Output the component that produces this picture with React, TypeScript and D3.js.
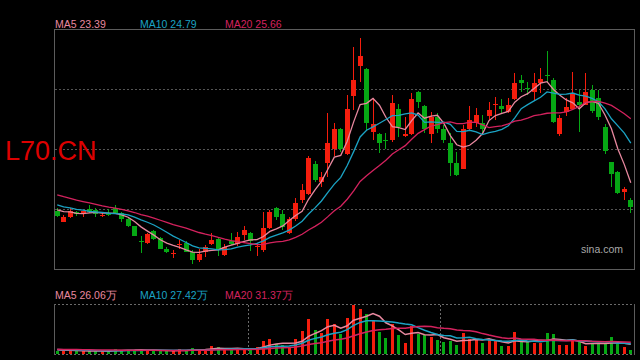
import React, { useEffect, useRef } from "react";
import * as d3 from "d3";

// daily candles, oldest first (90 sessions)
const opens = [
  22.39, 22.01, 22.16, 22.37, 22.31, 22.45, 22.43, 22.24, 22.29, 22.49,
  22.33, 22.11, 21.86, 21.32, 21.27, 21.68, 21.45, 21.05, 20.88, 21.2,
  21.25, 20.95, 20.66, 20.95, 21.22, 21.4, 20.83, 21.34, 21.22, 21.54,
  21.6, 21.14, 21.01, 21.78, 22.51, 22.29, 21.62, 22.1, 22.78, 22.99,
  24.06, 23.43, 24.08, 24.59, 25.3, 24.41, 26.47, 27.54, 27.41, 25.2,
  25.11, 24.92, 24.91, 25.99, 25.05, 25.11, 26.61, 26.11, 25.11, 25.71,
  25.29, 24.81, 24.1, 23.88, 25.3, 25.52, 25.5, 25.76, 26.16, 26.11,
  25.91, 26.35, 27.03, 26.75, 26.62, 26.91, 27.22, 27.03, 25.12, 25.91,
  25.99, 26.26, 26.15, 26.68, 26.38, 25.38, 24.12, 23.78, 23.08, 22.78,
];
const closes = [
  22.23, 22.19, 22.39, 22.28, 22.39, 22.37, 22.29, 22.26, 22.27, 22.33,
  22.11, 21.87, 21.52, 21.31, 21.58, 21.39, 21.06, 20.92, 20.91, 21.22,
  20.95, 20.66, 20.87, 21.13, 21.37, 21.05, 21.13, 21.22, 21.46, 21.72,
  21.31, 21.16, 21.78, 22.37, 22.17, 21.82, 22.11, 22.67, 23.14, 24.28,
  23.49, 23.61, 24.81, 25.3, 24.59, 26.0, 27.03, 27.88, 25.52, 25.46,
  24.79, 24.9, 26.21, 25.36, 25.12, 26.35, 26.26, 25.29, 25.71, 25.29,
  24.91, 24.1, 23.67, 25.3, 25.61, 25.79, 25.29, 25.97, 26.18, 25.99,
  26.15, 26.93, 26.93, 26.72, 26.93, 27.07, 27.2, 25.55, 25.7, 26.09,
  26.56, 26.15, 26.62, 25.93, 25.73, 24.53, 23.7, 23.04, 23.16, 22.52,
];
const highs = [
  22.5, 22.25, 22.49, 22.39, 22.4, 22.61, 22.49, 22.33, 22.45, 22.61,
  22.37, 22.13, 21.86, 21.51, 21.62, 21.72, 21.48, 21.13, 21.01, 21.37,
  21.31, 21.01, 21.04, 21.19, 21.6, 21.43, 21.21, 21.6, 21.66, 21.86,
  21.66, 21.25, 22.37, 22.43, 22.54, 22.43, 22.19, 22.84, 23.35, 24.34,
  24.16, 23.78, 25.85, 25.5, 25.32, 26.5, 28.19, 28.51, 27.45, 26.38,
  25.14, 25.14, 26.5, 26.18, 25.73, 26.56, 26.65, 26.15, 25.91, 25.85,
  25.44, 25.14, 24.49, 25.44, 26.11, 26.03, 25.79, 26.26, 26.44, 26.35,
  26.38, 27.27, 27.21, 26.97, 27.27, 27.47, 28.07, 27.09, 25.79, 26.38,
  27.32, 26.68, 27.27, 26.85, 26.68, 25.46, 24.14, 23.82, 23.25, 22.84,
];
const lows = [
  22.16, 21.99, 22.15, 22.22, 22.16, 22.31, 22.16, 22.19, 22.22, 22.31,
  22.01, 21.82, 21.51, 20.9, 21.21, 21.37, 21.04, 20.9, 20.72, 21.04,
  20.92, 20.52, 20.6, 20.75, 21.19, 20.8, 20.8, 21.19, 21.15, 21.37,
  20.99, 20.8, 20.95, 21.74, 22.07, 21.72, 21.58, 22.05, 22.67, 22.96,
  23.43, 23.25, 23.61, 24.34, 24.49, 24.37, 25.97, 26.97, 25.26, 24.91,
  24.44, 24.58, 24.85, 25.02, 25.02, 25.08, 26.03, 25.14, 24.81, 25.14,
  24.79, 23.63, 23.63, 23.87, 25.26, 25.38, 25.16, 25.61, 25.61, 25.85,
  25.85, 26.32, 26.62, 26.5, 26.3, 26.56, 26.91, 25.5, 25.05, 25.76,
  25.97, 25.2, 26.13, 25.85, 25.61, 24.41, 23.23, 22.99, 22.78, 22.33,
];
// volume in 万 shares
const volumes = [
  9.8, 9.8, 12.3, 9.8, 9.8, 8.6, 9.8, 9.8, 8.6, 14.7,
  12.3, 12.3, 12.3, 13.5, 12.3, 11.0, 9.8, 9.8, 9.8, 13.5,
  12.3, 17.2, 12.3, 11.0, 22.1, 19.6, 14.7, 12.3, 14.7, 14.7,
  14.7, 19.6, 33.6, 38.5, 27.7, 23.8, 19.6, 38.5, 58.1, 87.5,
  60.5, 53.9, 87.5, 75.2, 52.2, 89.9, 121.8, 112.0, 99.7, 85.0,
  56.4, 41.7, 75.2, 48.3, 29.4, 71.1, 52.2, 48.3, 44.1, 36.0,
  31.1, 34.3, 23.8, 53.9, 38.5, 38.5, 29.4, 38.5, 34.3, 22.1,
  22.1, 56.4, 31.0, 32.0, 30.5, 30.0, 53.9, 50.7, 23.8, 23.8,
  33.4, 36.0, 22.1, 26.2, 26.2, 29.4, 43.4, 26.2, 18.9, 12.4,
];

// sessions before the window, only used to warm up the moving averages
const priorCloses = [
  23.55, 23.48, 23.62, 23.4, 23.31, 23.25, 23.36, 23.18, 23.09, 22.96,
  22.88, 22.71, 22.83, 22.69, 22.79, 22.52, 22.41, 22.56, 22.43,
];
const priorVolumes = [
  15.2, 13.8, 16.5, 14.1, 12.9, 15.8, 13.2, 14.6, 16.1, 13.5,
  14.9, 12.8, 15.5, 13.9, 12.4, 14.2, 13.1, 12.6, 13.4,
];

const maPeriods = [5, 10, 20];
const maColors = ["#e8889f", "#1ba3c4", "#d4225e"];
const priceLegend = ["MA5 23.39", "MA10 24.79", "MA20 25.66"];
const volumeLegend = ["MA5 26.06万", "MA10 27.42万", "MA20 31.37万"];
const symbol = "L70.CN";
const watermark = "sina.com";

const UP = "#f51d0d";
const DOWN = "#06a814";
const FONT = "'Liberation Sans', Arial, sans-serif";

function movingAverage(prior: number[], values: number[], n: number) {
  const all = prior.concat(values);
  const off = prior.length;
  return values.map((_, i) => d3.mean(all.slice(off + i - n + 1, off + i + 1)) as number);
}

export default function App() {
  const ref = useRef<SVGSVGElement>(null);

  useEffect(() => {
    const svg = d3.select(ref.current);
    svg.selectAll("*").remove();

    const left = 54, right = 634;
    const pTop = 30, pBottom = 270;
    const vTop = 304, vBottom = 355;

    const idx = d3.range(closes.length);
    const x = d3.scaleBand<number>().domain(idx).range([left, right]);
    const cx = (i: number) => (x(i) as number) + x.bandwidth() / 2;
    const y = d3.scaleLinear().domain([20.3, 28.8]).range([pBottom, pTop]);
    const vy = d3.scaleLinear().domain([0, 125]).range([vBottom, vTop]);

    // price panel frame + grid
    svg.append("rect")
      .attr("x", left + 0.5).attr("y", pTop - 0.5)
      .attr("width", right - left).attr("height", pBottom - pTop)
      .attr("fill", "none").attr("stroke", "#5c5c5c");

    svg.selectAll(".pgrid")
      .data([1, 2, 3])
      .join("line")
      .attr("x1", left + 1).attr("x2", right)
      .attr("y1", d => pTop - 0.5 + d * 60).attr("y2", d => pTop - 0.5 + d * 60)
      .attr("stroke", "#555").attr("stroke-dasharray", "2,2");

    // symbol label + watermark
    svg.append("text")
      .attr("x", 5).attr("y", 160)
      .style("font-family", FONT).style("font-size", "27px")
      .attr("fill", "#dd0000")
      .text(symbol);

    svg.append("text")
      .attr("x", 623).attr("y", 253)
      .attr("text-anchor", "end")
      .style("font-family", FONT).style("font-size", "10.5px")
      .attr("fill", "#a8a8a8")
      .text(watermark);

    // candles
    const candles = svg.append("g");
    idx.forEach(i => {
      const o = opens[i], c = closes[i];
      const up = c >= o;
      const col = up ? UP : DOWN;
      const bx = Math.round(cx(i) - 2.5);
      const yh = Math.round(y(highs[i])), yl = Math.round(y(lows[i]));
      candles.append("rect")
        .attr("x", bx + 2).attr("y", yh)
        .attr("width", 1).attr("height", Math.max(1, yl - yh))
        .attr("fill", col);
      const top = Math.round(y(Math.max(o, c)));
      const bot = Math.round(y(Math.min(o, c)));
      candles.append("rect")
        .attr("x", bx).attr("y", top)
        .attr("width", 5).attr("height", Math.max(1, bot - top))
        .attr("fill", col);
    });

    // price moving averages
    maPeriods.forEach((n, k) => {
      const ma = movingAverage(priorCloses, closes, n);
      const line = d3.line<number>()
        .x((_, i) => cx(i))
        .y(d => y(d));
      svg.append("path")
        .datum(ma)
        .attr("d", line)
        .attr("fill", "none")
        .attr("stroke", maColors[k])
        .attr("stroke-width", 1.3);
    });

    // legends
    [priceLegend, volumeLegend].forEach((labels, row) => {
      labels.forEach((t, k) => {
        svg.append("text")
          .attr("x", 55 + k * 85).attr("y", row === 0 ? 28 : 299)
          .style("font-family", FONT).style("font-size", "10.5px")
          .attr("fill", maColors[k])
          .text(t);
      });
    });

    // volume panel frame
    svg.selectAll(".vh")
      .data([vTop + 0.5, vBottom - 0.5])
      .join("line")
      .attr("x1", left).attr("x2", right + 1)
      .attr("y1", d => d).attr("y2", d => d)
      .attr("stroke", "#6a6a6a").attr("stroke-dasharray", "2,2");
    svg.selectAll(".vv")
      .data([left + 0.5, right + 0.5])
      .join("line")
      .attr("x1", d => d).attr("x2", d => d)
      .attr("y1", vTop).attr("y2", vBottom)
      .attr("stroke", "#5c5c5c");
    svg.selectAll(".vgrid")
      .data([248.5, 440.5])
      .join("line")
      .attr("x1", d => d).attr("x2", d => d)
      .attr("y1", vTop + 1).attr("y2", vBottom - 1)
      .attr("stroke", "#6a6a6a").attr("stroke-dasharray", "2,2");

    // volume bars
    svg.append("g")
      .selectAll("rect")
      .data(idx)
      .join("rect")
      .attr("x", i => Math.round(cx(i) - 1.5))
      .attr("y", i => Math.round(vy(volumes[i])))
      .attr("width", 3)
      .attr("height", i => vBottom - 1 - Math.round(vy(volumes[i])))
      .attr("fill", i => (closes[i] >= opens[i] ? UP : DOWN));

    // volume moving averages
    maPeriods.forEach((n, k) => {
      const ma = movingAverage(priorVolumes, volumes, n);
      const line = d3.line<number>()
        .x((_, i) => cx(i))
        .y(d => vy(d));
      svg.append("path")
        .datum(ma)
        .attr("d", line)
        .attr("fill", "none")
        .attr("stroke", maColors[k])
        .attr("stroke-width", 1.5);
    });
  }, []);

  return (
    <>
      <style>{`body{margin:0;background:#000}`}</style>
      <svg ref={ref} width={640} height={360} style={{ display: "block", background: "#000" }} />
    </>
  );
}
